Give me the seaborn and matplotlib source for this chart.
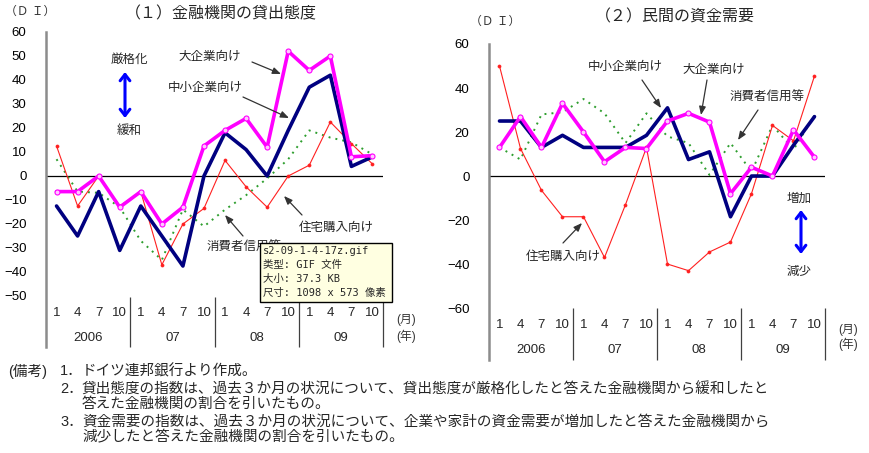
import matplotlib
matplotlib.use("Agg")
import matplotlib.pyplot as plt
from matplotlib.patches import Rectangle
import seaborn as sns
import pandas as pd

sns.set_theme(style="white")
plt.rcParams['font.family'] = ['Liberation Sans', 'Noto Sans CJK JP']
plt.rcParams['axes.unicode_minus'] = True

W, H = 870, 453

# ---------------- data ----------------
months = ["1", "4", "7", "10"] * 4
years = ["2006", "07", "08", "09"]
quarters = list(range(16))

# (1) 金融機関の貸出態度
lend_large = [-6.5, -6.5, 0, -13, -6.5, -20, -13, 12.5, 19, 24, 12, 52, 44, 50, 8, 8.5]
lend_sme = [-12.5, -25, -6.5, -31, -12.5, -25, -37.5, 0, 18, 11, 0, 19, 37, 42, 4, 8]
lend_housing = [12.5, -12.5, 0, -12.5, -6.5, -37, -20, -13.5, 6.5, -4.5, -13, 0, 4.5, 22.5, 13.5, 5]
lend_consumer = [7, -6.5, -7, -13, -27, -35, -14, -21, -14, -8, -1, 7, 19, 16, 14, 9]

# (2) 民間の資金需要
dem_large = [13, 27, 13, 33, 20, 6.5, 13, 12.5, 25, 28.5, 24.5, -8, 4, 0, 21, 8.5]
dem_sme = [25, 25, 13, 18.5, 13, 13, 13, 18.5, 31, 7.5, 11, -18.5, 0, 0, 14, 27]
dem_housing = [50, 12.5, -6.5, -18.5, -18.5, -37, -13, 13, -40, -43, -34.5, -30, -8, 23, 16, 45.5]
dem_consumer = [13, 7.5, 28, 29, 35, 28.5, 15, 28.5, 18, 15, 0.5, 15, 2, 23, 12, 27.5]

# ---------------- figure ----------------
fig = plt.figure(figsize=(W / 100, H / 100), dpi=100)


def rect(x0, x1, y0, y1):
    return [x0 / W, 1 - y1 / H, (x1 - x0) / W, (y1 - y0) / H]


def fx(px):
    return px / W


def fy(py):
    return 1 - py / H


axL = fig.add_axes(rect(46, 383, 32, 347))
axR = fig.add_axes(rect(489, 825, 44, 360))

styles = {
    "consumer": dict(color="#2E9E2E", lw=1.4, linestyle=(0, (1, 2.6)), zorder=2),
    "housing": dict(color="#FF2020", lw=0.8, marker="o", markersize=2.2,
                    markerfacecolor="#FF2020", markeredgecolor="#FF2020",
                    markeredgewidth=0.5, zorder=3),
    "sme": dict(color="#000080", lw=2.6, zorder=4),
    "large": dict(color="#FF00FF", lw=2.6, marker="o", markersize=3.6,
                  markerfacecolor="#FFC8FF", markeredgecolor="#FF00FF",
                  markeredgewidth=0.8, zorder=5),
}


def draw_panel(ax, series, ylo, yhi, yticks, y_month, y_year, y_sep):
    df = pd.DataFrame({"q": quarters, **series})
    for key in ["consumer", "housing", "sme", "large"]:
        sns.lineplot(data=df, x="q", y=key, ax=ax, legend=False, **styles[key])
    ax.set_xlim(-0.5, 15.5)
    ax.set_ylim(ylo, yhi)
    ax.set_yticks(yticks)
    ax.set_xticks([])
    ax.set_xlabel("")
    ax.set_ylabel("")
    for s in ["top", "right", "bottom"]:
        ax.spines[s].set_visible(False)
    ax.spines["left"].set_color("#8C8C8C")
    ax.spines["left"].set_linewidth(1.8)
    ax.tick_params(axis="y", direction="in", length=4, width=1, color="#707070",
                   pad=14, labelsize=9.5, labelcolor="black")
    ax.axhline(0, color="black", lw=0.9, zorder=1)
    ax.patch.set_alpha(0)
    for i, m in enumerate(months):
        ax.text(i, y_month, m, ha="center", va="center", fontsize=9.5)
    for g, yr in enumerate(years):
        ax.text(g * 4 + 1.5, y_year, yr, ha="center", va="center", fontsize=9.5)
    ax.vlines([3.5, 7.5, 11.5, 15.5], ylo, y_sep, color="#404040", lw=0.9, clip_on=False)


draw_panel(axL, {"large": lend_large, "sme": lend_sme, "housing": lend_housing,
                 "consumer": lend_consumer},
           -71.25, 60, list(range(-50, 61, 10)), -57.1, -67.5, -50.5)
draw_panel(axR, {"large": dem_large, "sme": dem_sme, "housing": dem_housing,
                 "consumer": dem_consumer},
           -83.6, 60, list(range(-60, 61, 20)), -67.7, -79.1, -60)


def ftext(x, y, s, ha="left", va="center", size=9, **kw):
    return fig.text(fx(x), fy(y), s, ha=ha, va=va, fontsize=size, **kw)


def arrow(x0, y0, x1, y1, color="#333333", lw=0.9, style="-|>,head_length=0.5,head_width=0.2"):
    fig.add_artist(matplotlib.patches.FancyArrowPatch(
        (fx(x0), fy(y0)), (fx(x1), fy(y1)), transform=fig.transFigure,
        arrowstyle=style, color=color, lw=lw, shrinkA=0, shrinkB=0,
        mutation_scale=10))


# titles
ftext(221, 14, "（１）金融機関の貸出態度", ha="center", size=11.5)
ftext(675, 17, "（２）民間の資金需要", ha="center", size=11.5)
ftext(5, 12, "（Ｄ Ｉ）", size=8.5, color="#333333")
ftext(470, 22, "（Ｄ Ｉ）", size=8.5, color="#333333")

# (月)(年)
for x, y1, y2 in [(406, 320, 336), (848, 330, 344)]:
    ftext(x, y1, "(月)", ha="center", size=8.5, color="#333333")
    ftext(x, y2, "(年)", ha="center", size=8.5, color="#333333")

# left panel annotations
ftext(129, 60, "厳格化", ha="center", size=9)
ftext(129, 131, "緩和", ha="center", size=9)
arrow(125, 72, 125, 118, color="#0000FF", lw=2.2,
      style="<->,head_length=0.45,head_width=0.35")
ftext(178, 57, "大企業向け", size=9)
arrow(252, 62, 281, 74)
ftext(168, 88, "中小企業向け", size=9)
arrow(243, 97, 289, 118)
ftext(299, 228, "住宅購入向け", size=9)
arrow(302, 215, 284, 196)
ftext(207, 248, "消費者信用等", size=9)
arrow(243, 236, 225, 215)

# right panel annotations
ftext(588, 67, "中小企業向け", size=9)
arrow(642, 80, 661, 108)
ftext(682, 70, "大企業向け", size=9)
arrow(707, 80, 701, 115)
ftext(730, 98, "消費者信用等", size=9)
arrow(758, 110, 738, 140)
ftext(526, 257, "住宅購入向け", size=9)
arrow(563, 243, 582, 223)
ftext(799, 199, "増加", ha="center", size=9)
ftext(799, 272, "減少", ha="center", size=9)
arrow(801, 210, 801, 254, color="#0000FF", lw=2.2,
      style="<->,head_length=0.45,head_width=0.35")

# tooltip box (as in the screenshot)
fig.add_artist(Rectangle((fx(260), fy(302)), (392 - 260) / W, (302 - 243) / H,
                         transform=fig.transFigure, facecolor="#FFFFE1",
                         edgecolor="black", lw=1, zorder=10))
tip_font = ["DejaVu Sans Mono", "Noto Sans CJK SC"]
for y, s in [(251, "s2-09-1-4-17z.gif"), (265, "类型: GIF 文件"),
             (279, "大小: 37.3 KB"), (293, "尺寸: 1098 x 573 像素")]:
    fig.text(fx(263), fy(y), s, ha="left", va="center", fontsize=7.5,
             family=tip_font, zorder=11)

# footnotes
fn = 10.5
ftext(8, 371, "(備考)", size=fn)
ftext(60, 371, "1．", size=fn)
ftext(82, 371, "ドイツ連邦銀行より作成。", size=fn)
ftext(60, 389, "2．", size=fn)
ftext(82, 389, "貸出態度の指数は、過去３か月の状況について、貸出態度が厳格化したと答えた金融機関から緩和したと", size=fn)
ftext(82, 404, "答えた金融機関の割合を引いたもの。", size=fn)
ftext(60, 422, "3．", size=fn)
ftext(82, 422, "資金需要の指数は、過去３か月の状況について、企業や家計の資金需要が増加したと答えた金融機関から", size=fn)
ftext(82, 437, "減少したと答えた金融機関の割合を引いたもの。", size=fn)

fig.savefig("out.png", dpi=100)
